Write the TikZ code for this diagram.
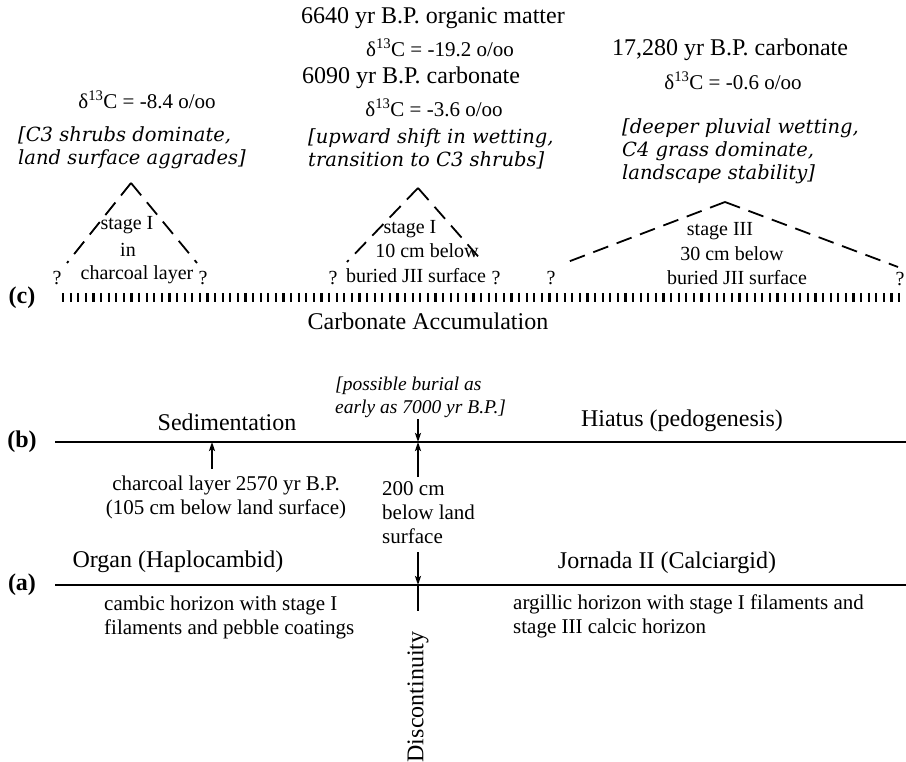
\documentclass[tikz,border=0pt]{standalone}
\usepackage{fontspec}
\setmainfont{Liberation Serif}
\newfontfamily\dvs{DejaVu Serif}
\usetikzlibrary{arrows.meta}
\tikzset{
  big/.style={font=\fontsize{24}{27}\selectfont, inner sep=0pt},
  small/.style={font=\fontsize{21}{24}\selectfont, inner sep=0pt},
  stg/.style={font=\fontsize{20}{24}\selectfont, inner sep=0pt},
  smallml/.style={font=\fontsize{21}{24}\selectfont, inner sep=0pt, align=left},
  ital/.style={font=\dvs\itshape\fontsize{19.5}{23}\selectfont, inner sep=0pt, align=left},
  tital/.style={font=\itshape\fontsize{19.5}{23}\selectfont, inner sep=0pt, align=left},
  lbl/.style={font=\bfseries\fontsize{24}{27}\selectfont, inner sep=0pt},
  mainline/.style={line width=2.4pt},
  tri/.style={line width=1.8pt, dash pattern=on 16pt off 9pt},
  arr/.style={line width=1.8pt, -{Stealth[length=9pt,width=6pt,inset=2pt]}},
  ticks/.style={line width=9pt, dash pattern=on 2.2pt off 5.4pt}
}
\newcommand{\dC}[1]{δ\textsuperscript{13}C = #1 o/oo}
\begin{document}
\begin{tikzpicture}[x=1pt,y=-1pt]
\useasboundingbox (0,0) rectangle (906,762);
% ---------- (c) top panel ----------
% left column
\node[small] (d1) at (147,100) {\dC{-8.4}};
\node[ital, anchor=west] (i1) at (18,147.5) {[C3 shrubs dominate,\\land surface aggrades]};
\coordinate (t1a) at (131,183);
\coordinate (t1l) at (67,263);
\coordinate (t1r) at (197,263);
\draw[tri] (t1a) -- (t1l);
\draw[tri] (t1a) -- (t1r);
\node[stg] (q1l) at (57,278) {?};
\node[stg] (q1r) at (203,278) {?};
\node[stg] (s1a) at (127,225) {stage I};
\node[stg] (s1b) at (128,250) {in};
\node[stg] (s1c) at (137,275) {charcoal layer};
% middle column
\node[big] (m1) at (433,18) {6640 yr B.P. organic matter};
\node[small] (m2) at (440,48) {\dC{-19.2}};
\node[big] (m3) at (411,78) {6090 yr B.P. carbonate};
\node[small] (m4) at (434,108) {\dC{-3.6}};
\node[ital, anchor=west] (i2) at (308,149) {[upward shift in wetting,\\transition to C3 shrubs]};
\coordinate (t2a) at (418,188);
\coordinate (t2l) at (347,262);
\coordinate (t2r) at (483,262);
\draw[tri] (t2a) -- (t2l);
\draw[tri] (t2a) -- (t2r);
\node[stg] (q2l) at (333,278) {?};
\node[stg] (q2r) at (496,278) {?};
\node[stg] (s2a) at (410,229) {stage I};
\node[stg] (s2b) at (427,251) {10 cm below};
\node[stg] (s2c) at (416,276) {buried JII surface};
% right column
\node[big] (r1) at (730,50) {17,280 yr B.P. carbonate};
\node[small] (r2) at (733,81) {\dC{-0.6}};
\node[ital, anchor=west] (i3) at (622,151) {[deeper pluvial wetting,\\C4 grass dominate,\\landscape stability]};
\coordinate (t3a) at (725,202);
\coordinate (t3l) at (565,263);
\coordinate (t3r) at (898,267);
\draw[tri] (t3a) -- (t3l);
\draw[tri] (t3a) -- (t3r);
\node[stg] (q3l) at (551,278) {?};
\node[stg] (q3r) at (900,279) {?};
\node[stg] (s3a) at (720,231) {stage III};
\node[stg] (s3b) at (732,254) {30 cm below};
\node[stg] (s3c) at (737,278) {buried JII surface};
% dotted carbonate line
\node[lbl] (lc) at (22,298) {(c)};
\coordinate (cl) at (62,298);
\coordinate (cr) at (901,298);
\draw[ticks] (cl) -- (cr);
\node[big] (ca) at (428,321) {Carbonate Accumulation};
% ---------- (b) panel ----------
\node[lbl] (lb) at (22,442) {(b)};
\coordinate (bl) at (55,442);
\coordinate (br) at (906,442);
\draw[mainline] (bl) -- (br);
\node[big] (sed) at (227,422) {Sedimentation};
\node[big] (hia) at (682,421) {Hiatus (pedogenesis)};
\node[tital, anchor=west] (pb) at (335,397) {[possible burial as\\early as 7000 yr B.P.]};
\coordinate (ch0) at (212,469);
\coordinate (ch1) at (212,442);
\draw[arr] (ch0) -- (ch1);
\node[small, align=center] (chl) at (226,497) {charcoal layer 2570 yr B.P.\\(105 cm below land surface)};
\coordinate (dp0) at (418,419);
\coordinate (dp1) at (418,442);
\draw[arr] (dp0) -- (dp1);
\coordinate (du0) at (418,477);
\draw[arr] (du0) -- (dp1);
\node[smallml, anchor=west] (cm) at (382,513) {200 cm\\below land\\surface};
% ---------- (a) panel ----------
\node[lbl] (la) at (22,585) {(a)};
\coordinate (al) at (55,585);
\coordinate (ar) at (906,585);
\draw[mainline] (al) -- (ar);
\coordinate (dd0) at (418,552);
\coordinate (dd1) at (418,585);
\draw[arr] (dd0) -- (dd1);
\coordinate (dv1) at (418,611);
\draw[mainline] (dd1) -- (dv1);
\node[big] (org) at (178,562) {Organ (Haplocambid)};
\node[big] (jor) at (667,563) {Jornada II (Calciargid)};
\node[smallml, anchor=west] (cam) at (104,617) {cambic horizon with stage I\\filaments and pebble coatings};
\node[smallml, anchor=west] (arg) at (513,616) {argillic horizon with stage I filaments and\\stage III calcic horizon};
\node[big, rotate=90] (disc) at (418,697) {Discontinuity};
\end{tikzpicture}
\end{document}
